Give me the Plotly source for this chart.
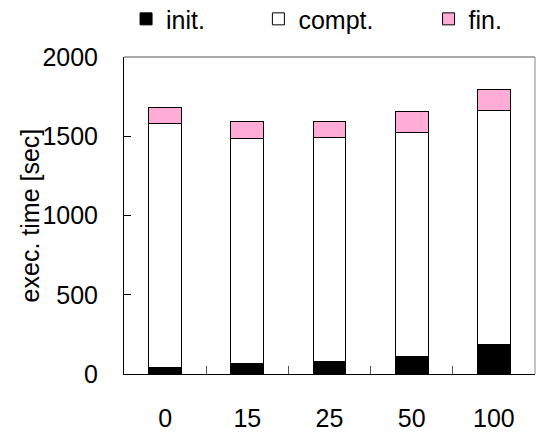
import plotly.graph_objects as go

# Stacked execution-time breakdown per setting
categories = ["0", "15", "25", "50", "100"]
init_time = [43, 66, 77, 108, 184]
compt_time = [1537, 1418, 1417, 1418, 1480]
fin_time = [100, 107, 97, 128, 131]
y_ticks = [0, 500, 1000, 1500, 2000]
y_title = "exec. time [sec]"

FONT = "Liberation Sans, Arial, sans-serif"
FS = 25

fig = go.Figure()
fig.add_trace(go.Bar(x=categories, y=init_time, name="init.",
                     marker=dict(color="#000000", line=dict(color="#000000", width=1)),
                     legend="legend"))
fig.add_trace(go.Bar(x=categories, y=compt_time, name="compt.",
                     marker=dict(color="#FFFFFF", line=dict(color="#000000", width=1)),
                     legend="legend2"))
fig.add_trace(go.Bar(x=categories, y=fin_time, name="fin.",
                     marker=dict(color="#FFADD6", line=dict(color="#000000", width=1)),
                     legend="legend3"))

leg_common = dict(orientation="h", yref="container", yanchor="middle", y=0.956,
                  xanchor="left",
                  font=dict(family=FONT, size=FS, color="#000000"),
                  bgcolor="rgba(0,0,0,0)", itemclick=False)
fig.update_layout(
    width=536, height=434,
    margin=dict(l=124, r=1, t=57, b=60, autoexpand=False),
    paper_bgcolor="#FFFFFF", plot_bgcolor="#FFFFFF",
    barmode="stack", bargap=0.6, showlegend=True,
    font=dict(family=FONT, size=FS, color="#000000"),
    legend=dict(x=0.005, **leg_common),
    legend2=dict(x=0.327, **leg_common),
    legend3=dict(x=0.741, **leg_common),
    xaxis=dict(type="category", showline=True, linecolor="#000000", linewidth=1,
               ticks="inside", ticklen=8, tickcolor="#555555", tickson="boundaries",
               showgrid=False, ticklabelstandoff=22),
    yaxis=dict(range=[0, 2000], tickvals=y_ticks, showline=True, linecolor="#000000",
               linewidth=1, ticks="inside", ticklen=7, tickcolor="#000000",
               showgrid=False, zeroline=False, ticklabelstandoff=20),
    annotations=[
        dict(text=y_title, xref="paper", yref="paper", x=-0.229, y=0.5,
             xanchor="center", yanchor="middle", textangle=-90, showarrow=False,
             font=dict(family=FONT, size=FS, color="#000000")),
    ],
    shapes=[
        dict(type="line", xref="paper", yref="paper", x0=0, x1=1, y0=1, y1=1,
             line=dict(color="#555555", width=1)),
        dict(type="line", xref="paper", yref="paper", x0=1, x1=1, y0=0, y1=1,
             line=dict(color="#888888", width=1)),
    ],
)

fig.write_html("out.html")
